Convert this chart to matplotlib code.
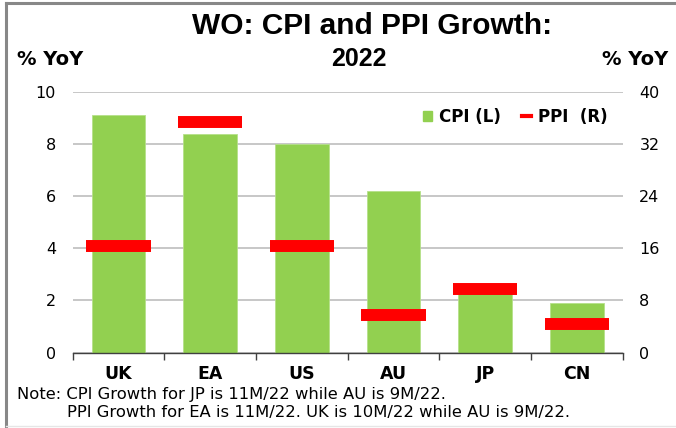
import matplotlib
matplotlib.use("Agg")
import matplotlib.pyplot as plt
from matplotlib.lines import Line2D
from matplotlib.patches import Patch
import numpy as np

plt.rcParams['font.family'] = ['DejaVu Sans']

categories = ["UK", "EA", "US", "AU", "JP", "CN"]
cpi = [9.1, 8.4, 8.0, 6.2, 2.4, 1.9]
ppi = [16.3, 35.4, 16.4, 5.7, 9.7, 4.3]
left_ticks = [0, 2, 4, 6, 8, 10]
right_ticks = [0, 8, 16, 24, 32, 40]

GREEN = "#92D050"
RED = "#FF0000"
GRID = "#BDBDBD"

fig = plt.figure(figsize=(6.76, 4.28), dpi=100)
ax = fig.add_axes([0.1075, 0.1764, 0.8136, 0.6087])
ax2 = ax.twinx()

x = np.arange(len(categories))
ax.bar(x, cpi, width=0.585, color=GREEN, edgecolor="#B5E08A", linewidth=0.6, zorder=2)
ax.set_xlim(-0.5, len(categories) - 0.5)
ax.set_ylim(0, 10)
ax.set_yticks(left_ticks)
ax.yaxis.grid(True, color=GRID, linewidth=1.2)
ax.set_axisbelow(True)

ax2.hlines(ppi, x - 0.35, x + 0.35, colors=RED, linewidth=8.6, capstyle='butt', zorder=3)
ax2.set_ylim(0, 40)
ax2.set_yticks(right_ticks)

for a in (ax, ax2):
    for s in ("left", "right", "top"):
        a.spines[s].set_visible(False)
    a.tick_params(axis='y', length=0, labelsize=11.5, pad=12, labelcolor="#000000")
ax2.spines['bottom'].set_visible(False)
ax.spines['bottom'].set_color("#404040")
ax.spines['bottom'].set_linewidth(1.0)

ax.set_xticks(x)
ax.set_xticklabels(categories, fontsize=12.5, fontweight='bold')
ax.set_xticks(np.arange(-0.5, len(categories), 1.0), minor=True)
ax.tick_params(axis='x', which='major', length=0, pad=9)
ax.tick_params(axis='x', which='minor', length=5, width=1.0, color="#404040", direction='out')

# Titles and axis unit labels
fig.text(0.550, 0.940, "WO: CPI and PPI Growth:", ha='center', va='center', fontsize=21.5,
         fontweight='bold', family=['Liberation Sans', 'DejaVu Sans'])
fig.text(0.531, 0.862, "2022", ha='center', va='center', fontsize=18,
         fontweight='bold', family=['Liberation Sans', 'DejaVu Sans'])
fig.text(0.025, 0.860, "% YoY", ha='left', va='center', fontsize=14, fontweight='bold')
fig.text(0.988, 0.860, "% YoY", ha='right', va='center', fontsize=14, fontweight='bold')

# Legend
handles = [Patch(facecolor=GREEN, edgecolor=GREEN),
           Line2D([0], [0], color=RED, linewidth=3)]
leg = fig.legend(handles, ["CPI (L)", "PPI  (R)"], loc='center', bbox_to_anchor=(0.762, 0.727),
                 ncol=2, frameon=False, handlelength=0.55, handleheight=0.55, handletextpad=0.4,
                 columnspacing=1.3, prop={'weight': 'bold', 'size': 12})

# Notes
fig.text(0.025, 0.078, "Note: CPI Growth for JP is 11M/22 while AU is 9M/22.", ha='left', va='center', fontsize=11.8)
fig.text(0.099, 0.036, "PPI Growth for EA is 11M/22. UK is 10M/22 while AU is 9M/22.", ha='left', va='center', fontsize=11.8)

# Frame lines
fig.add_artist(Line2D([0.0089, 0.0089], [0.005, 0.993], color="#888888", linewidth=2.2, transform=fig.transFigure))
fig.add_artist(Line2D([0.0089, 1.0], [0.993, 0.993], color="#888888", linewidth=2.2, transform=fig.transFigure))
fig.add_artist(Line2D([0.0089, 1.0], [0.004, 0.004], color="#E6E6E6", linewidth=1.0, transform=fig.transFigure))

fig.savefig("out.png", dpi=100)
